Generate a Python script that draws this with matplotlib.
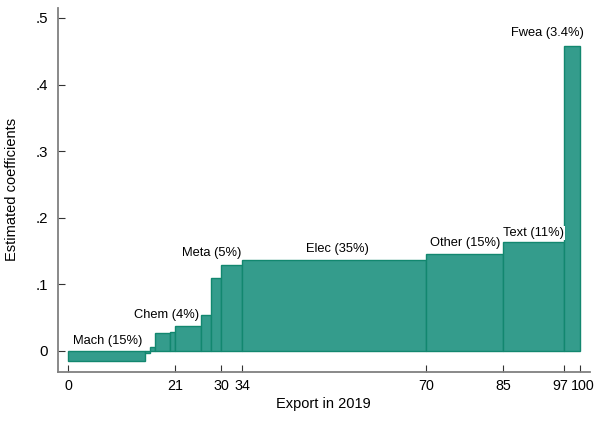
import matplotlib
matplotlib.use("Agg")
import matplotlib.pyplot as plt
from matplotlib.transforms import ScaledTranslation

# --- data ---
widths = [15, 1, 1.1, 2.9, 1, 5, 2, 2, 4, 36, 15, 12, 3]
coefs = [-0.016, -0.003, 0.005, 0.027, 0.028, 0.037, 0.053, 0.109, 0.129,
         0.136, 0.145, 0.163, 0.458]
xticks = [0, 21, 30, 34, 70, 85, 97, 100]
yticks = [0, 0.1, 0.2, 0.3, 0.4, 0.5]
ytick_labels = ["0", ".1", ".2", ".3", ".4", ".5"]

labels = ["Mach (15%)", "Chem (4%)", "Meta (5%)", "Elec (35%)",
          "Other (15%)", "Text (11%)", "Fwea (3.4%)"]
label_x = [7.8, 19.2, 28.0, 52.7, 77.7, 91.0, 93.7]
label_y = [0.015, 0.054, 0.147, 0.153, 0.162, 0.177, 0.477]

plt.rcParams["font.family"] = ["Liberation Sans", "DejaVu Sans"]

fig = plt.figure(figsize=(5.95, 4.21), dpi=100)
ax = fig.add_axes([0.097, 0.117, 0.8946, 0.864])

lefts = []
acc = 0
for w in widths:
    lefts.append(acc)
    acc += w

ax.bar(lefts, coefs, width=widths, align="edge",
       color="#349c8c", edgecolor="#12876f", linewidth=1.0)

for t, x, y in zip(labels, label_x, label_y):
    ax.text(x, y, t, ha="center", va="center", fontsize=9.3,
            bbox=dict(facecolor="white", edgecolor="none", pad=0.6))

ax.set_xlim(-2, 102)
ax.set_ylim(-0.0316, 0.515)
ax.set_xticks(xticks)
ax.set_xticklabels([str(v) for v in xticks], fontsize=10.3)
ax.set_yticks(yticks)
ax.set_yticklabels(ytick_labels, fontsize=10.8)
ax.tick_params(direction="in", length=5, width=0.8, color="#333333")
ax.tick_params(axis="x", pad=5)
ax.tick_params(axis="y", pad=7)

# the 97 and 100 labels sit very close; nudge them apart a little
xl = ax.get_xticklabels()
xl[-2].set_transform(xl[-2].get_transform() + ScaledTranslation(-3 / 72, 0, fig.dpi_scale_trans))
xl[-1].set_transform(xl[-1].get_transform() + ScaledTranslation(2.5 / 72, 0, fig.dpi_scale_trans))

for s in ["top", "right"]:
    ax.spines[s].set_visible(False)
for s in ["left", "bottom"]:
    ax.spines[s].set_color("#808080")
    ax.spines[s].set_linewidth(1.3)

ax.set_xlabel("Export in 2019", fontsize=10.5, labelpad=3)
ax.set_ylabel("Estimated coefficients", fontsize=10.5, labelpad=12)

fig.savefig("out.png", dpi=100)
